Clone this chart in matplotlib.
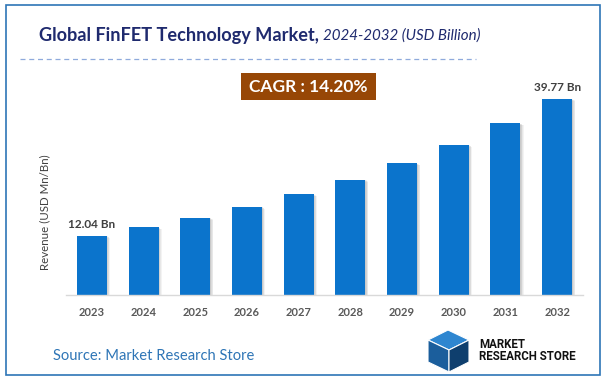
import matplotlib.pyplot as plt
from matplotlib.patches import Rectangle, Polygon
from matplotlib.lines import Line2D

years = ['2023', '2024', '2025', '2026', '2027', '2028', '2029', '2030', '2031', '2032']
revenue = [12.04, 13.75, 15.70, 17.93, 20.48, 23.39, 26.71, 30.50, 34.83, 39.77]
labels = {0: '12.04 Bn', 9: '39.77 Bn'}

plt.rcParams['font.family'] = ['Lato', 'DejaVu Sans']

W, H = 604, 383
fig = plt.figure(figsize=(W / 100, H / 100), dpi=100)

def fx(x):
    return x / W

def fy(y):
    return 1 - y / H

# outer border
fig.patches.append(Rectangle((fx(5.5), fy(375)), fx(594), (370) / H, transform=fig.transFigure,
                             fill=False, edgecolor='#2E75B6', linewidth=1.2))

# title
fig.text(fx(319), fy(35), 'Global FinFET Technology Market,', ha='right', va='center',
         fontsize=13.1, fontweight='bold', color='#1F2A6E')
fig.text(fx(323), fy(36), '2024-2032 (USD Billion)', ha='left', va='center',
         fontsize=10.9, style='italic', color='#1F2A6E')
fig.add_artist(Line2D([fx(20), fx(476)], [fy(59), fy(59)], transform=fig.transFigure,
                      color='#8FAADC', linewidth=0.9, linestyle=(0, (4, 3))))

# CAGR box
fig.patches.append(Rectangle((fx(241), fy(100)), (376 - 241) / W, 27 / H, transform=fig.transFigure,
                             facecolor='#974706', edgecolor='none'))
fig.text(fx(308.5), fy(87), 'CAGR : 14.20%', ha='center', va='center', fontsize=12.5,
         fontweight='bold', color='white')

ax = fig.add_axes([fx(66), 1 - 295 / H, 517 / W, 222 / H])
x = list(range(len(years)))

# soft shadow to the right of each bar
for k in range(1, 6):
    ax.bar([i + 0.012 * k for i in x], [v - 0.08 * k for v in revenue], width=0.58,
           color='#555555', alpha=0.07, zorder=1)
ax.bar(x, revenue, width=0.58, color='#0B74CC', zorder=2)

for i, txt in labels.items():
    ax.text(i, revenue[i] + 1.2, txt, ha='center', va='bottom', fontsize=8.5,
            fontweight='bold', color='#404040')

ax.set_xlim(-0.5, 9.5)
ax.set_ylim(0, 45)
ax.set_xticks(x)
ax.set_xticklabels(years, fontsize=8, fontweight='bold', color='#595959')
ax.tick_params(axis='x', length=0, pad=9)
ax.set_yticks([])
for s in ['top', 'right', 'left']:
    ax.spines[s].set_visible(False)
ax.spines['bottom'].set_color('#D9D9D9')
ax.spines['bottom'].set_linewidth(1)

fig.text(fx(45), fy(212), 'Revenue (USD Mn/Bn)', rotation=90, ha='center', va='center',
         fontsize=8.3, color='#404040')

fig.text(fx(53), fy(356), 'Source: Market Research Store', ha='left', va='center',
         fontsize=10.6, color='#2E75B6')

# logo: simple cube mark plus name
cube_top = [(428, 340), (448, 330), (469, 340), (449, 350)]
cube_left = [(428, 340), (449, 350), (449, 372), (428, 362)]
cube_right = [(449, 350), (469, 340), (469, 362), (449, 372)]
for pts, col in [(cube_top, '#2E86D0'), (cube_left, '#1B5E9C'), (cube_right, '#0F3F6E')]:
    fig.patches.append(Polygon([(fx(a), fy(b)) for a, b in pts], closed=True,
                               transform=fig.transFigure, facecolor=col, edgecolor='white',
                               linewidth=0.8))
fig.text(fx(479), fy(344), 'MARKET', ha='left', va='center', fontsize=8.3,
         fontweight='bold', color='#111111', family=['Roboto', 'DejaVu Sans'])
fig.text(fx(479), fy(357), 'RESEARCH STORE', ha='left', va='center', fontsize=8.3,
         fontweight='bold', color='#111111', family=['Roboto', 'DejaVu Sans'])

fig.savefig('out.png', dpi=100)
